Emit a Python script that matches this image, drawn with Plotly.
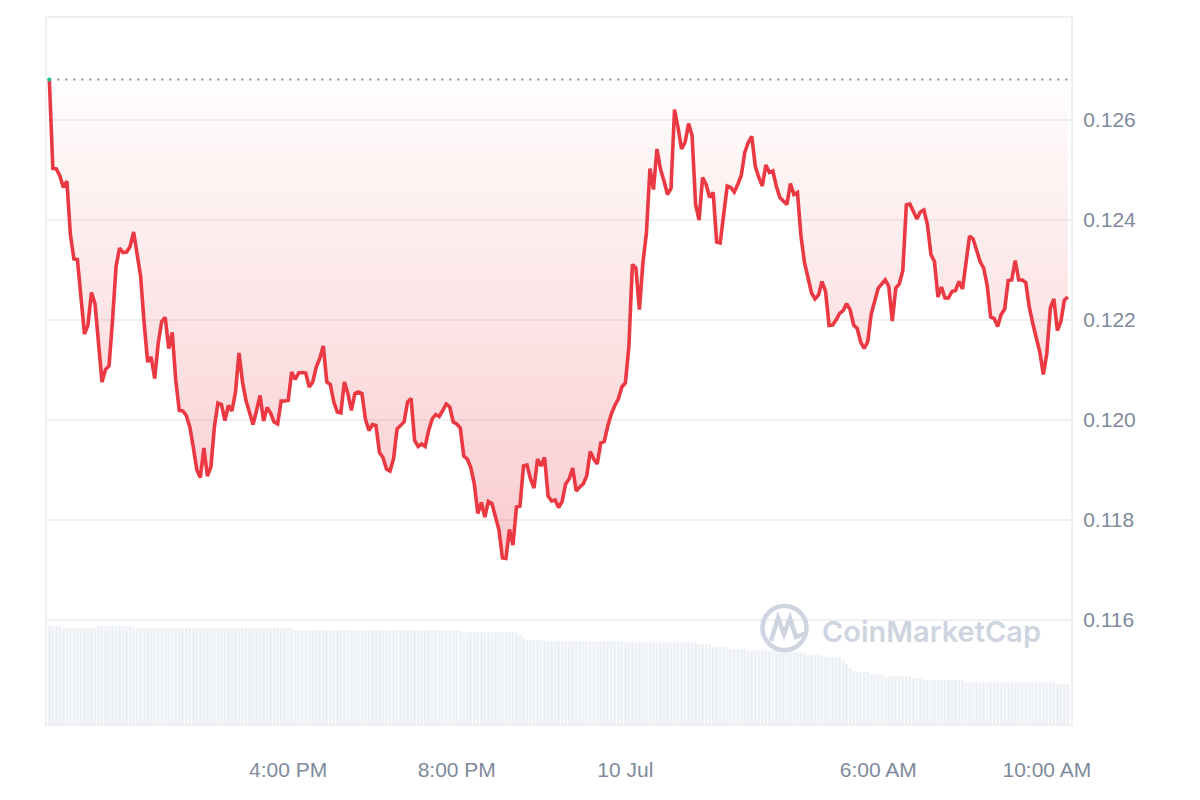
import pandas as pd
import plotly.graph_objects as go

# ---- data (5-minute samples) ----
start_time = "2024-07-09 10:20"
prices = [
    0.12681, 0.12503, 0.12502, 0.12488, 0.12465, 0.12478, 0.12371, 0.12322, 0.12321, 0.12240,
    0.12172, 0.12190, 0.12255, 0.12233, 0.12146, 0.12076, 0.12101, 0.12108, 0.12200, 0.12307,
    0.12344, 0.12335, 0.12336, 0.12347, 0.12376, 0.12327, 0.12287, 0.12193, 0.12116, 0.12126,
    0.12083, 0.12153, 0.12197, 0.12205, 0.12143, 0.12175, 0.12079, 0.12019, 0.12018, 0.12009,
    0.11986, 0.11945, 0.11900, 0.11885, 0.11944, 0.11888, 0.11906, 0.11986, 0.12034, 0.12031,
    0.11999, 0.12029, 0.12018, 0.12056, 0.12134, 0.12076, 0.12039, 0.12015, 0.11991, 0.12019,
    0.12049, 0.11998, 0.12025, 0.12014, 0.11996, 0.11992, 0.12038, 0.12038, 0.12039, 0.12096,
    0.12081, 0.12094, 0.12095, 0.12094, 0.12066, 0.12076, 0.12106, 0.12123, 0.12148, 0.12076,
    0.12071, 0.12036, 0.12016, 0.12014, 0.12076, 0.12053, 0.12019, 0.12053, 0.12056, 0.12053,
    0.12002, 0.11979, 0.11991, 0.11989, 0.11935, 0.11925, 0.11902, 0.11898, 0.11922, 0.11982,
    0.11989, 0.11996, 0.12036, 0.12043, 0.11959, 0.11947, 0.11952, 0.11947, 0.11979, 0.12002,
    0.12011, 0.12007, 0.12019, 0.12032, 0.12026, 0.11996, 0.11992, 0.11984, 0.11928, 0.11922,
    0.11905, 0.11872, 0.11813, 0.11835, 0.11806, 0.11837, 0.11833, 0.11808, 0.11781, 0.11724,
    0.11723, 0.11781, 0.11750, 0.11826, 0.11828, 0.11908, 0.11910, 0.11882, 0.11864, 0.11922,
    0.11908, 0.11925, 0.11848, 0.11838, 0.11840, 0.11825, 0.11837, 0.11872, 0.11882, 0.11904,
    0.11858, 0.11866, 0.11872, 0.11888, 0.11937, 0.11922, 0.11912, 0.11954, 0.11957, 0.11988,
    0.12012, 0.12029, 0.12042, 0.12066, 0.12074, 0.12146, 0.12311, 0.12304, 0.12221, 0.12314,
    0.12374, 0.12503, 0.12461, 0.12542, 0.12502, 0.12478, 0.12451, 0.12463, 0.12621, 0.12585,
    0.12542, 0.12555, 0.12593, 0.12569, 0.12431, 0.12400, 0.12485, 0.12471, 0.12445, 0.12455,
    0.12356, 0.12354, 0.12411, 0.12468, 0.12465, 0.12456, 0.12471, 0.12489, 0.12535, 0.12555,
    0.12567, 0.12507, 0.12485, 0.12468, 0.12510, 0.12495, 0.12498, 0.12467, 0.12445, 0.12438,
    0.12431, 0.12473, 0.12451, 0.12455, 0.12368, 0.12315, 0.12284, 0.12254, 0.12242, 0.12250,
    0.12277, 0.12257, 0.12189, 0.12190, 0.12200, 0.12213, 0.12219, 0.12233, 0.12220, 0.12190,
    0.12183, 0.12156, 0.12143, 0.12156, 0.12212, 0.12240, 0.12264, 0.12272, 0.12280, 0.12267,
    0.12198, 0.12264, 0.12272, 0.12299, 0.12430, 0.12432, 0.12418, 0.12402, 0.12416, 0.12420,
    0.12391, 0.12331, 0.12317, 0.12246, 0.12266, 0.12244, 0.12244, 0.12257, 0.12259, 0.12277,
    0.12262, 0.12317, 0.12368, 0.12362, 0.12340, 0.12317, 0.12304, 0.12270, 0.12206, 0.12203,
    0.12187, 0.12211, 0.12222, 0.12279, 0.12280, 0.12319, 0.12280, 0.12280, 0.12275, 0.12226,
    0.12193, 0.12165, 0.12136, 0.12091, 0.12133, 0.12224, 0.12242, 0.12179, 0.12197, 0.12240,
    0.12246,
]
volume_musd = [
    98, 98, 98, 98, 96, 96, 96, 96, 96, 96,
    96, 96, 96, 96, 98, 98, 98, 98, 98, 98,
    98, 98, 98, 98, 96, 96, 96, 96, 96, 96,
    96, 96, 96, 96, 96, 96, 96, 96, 96, 96,
    96, 96, 96, 96, 96, 96, 96, 96, 96, 96,
    96, 96, 96, 96, 96, 96, 96, 96, 96, 96,
    96, 96, 96, 96, 96, 96, 96, 96, 96, 96,
    93.7, 93.7, 93.7, 93.7, 93.7, 93.7, 93.7, 93.7, 93.7, 93.7,
    93.7, 93.7, 93.7, 93.7, 93.7, 93.7, 93.7, 93.7, 93.7, 93.7,
    93.7, 93.7, 93.7, 93.7, 93.7, 93.7, 93.7, 93.7, 93.7, 93.7,
    93.7, 93.7, 93.7, 93.7, 93.7, 93.7, 93.7, 93.7, 93.7, 93.7,
    93.7, 93.7, 93.7, 93.7, 93.7, 93.7, 93.7, 93.7, 91.7, 91.7,
    91.7, 91.7, 91.7, 91.7, 91.7, 91.7, 91.7, 91.7, 91.7, 91.7,
    91.7, 91.7, 91.7, 91.7, 89.3, 85.7, 83.7, 83.7, 83.7, 83.7,
    83.7, 83.7, 82.7, 82.7, 82.7, 82.7, 82.7, 82.7, 82.7, 82.7,
    82.7, 82.7, 82.7, 82.7, 82.7, 82.7, 82.7, 82.7, 82.7, 82.7,
    82.7, 82.7, 82.7, 82.7, 81.7, 81.7, 81.7, 81.7, 81.7, 81.7,
    81.7, 81.7, 81.7, 81.7, 81.7, 81.7, 81.7, 81.7, 81.7, 81.7,
    81.7, 81.7, 81.7, 81.7, 81.7, 79.7, 79.7, 79.7, 79.7, 77.3,
    77.3, 77.3, 77.3, 77.3, 75.3, 75.3, 75.3, 75.3, 75.3, 73.7,
    73.7, 73.7, 73.7, 73.7, 73.7, 73.7, 73.7, 73.7, 71.7, 71.7,
    71.7, 71.7, 71.7, 71.7, 71.7, 71.7, 69.3, 69.3, 69.3, 69.3,
    67.3, 67.3, 67.3, 67.3, 67.3, 67.3, 64, 60, 56, 53,
    52, 52, 52, 52, 49.7, 49.7, 49.7, 49.7, 47.7, 47.7,
    47.7, 47.7, 47.7, 47.7, 47.7, 47.7, 45.7, 45.7, 45.7, 44,
    44, 44, 44, 44, 44, 44, 44, 44, 44, 44,
    44, 41.7, 41.7, 41.7, 41.7, 41.7, 41.7, 41.7, 41.7, 41.7,
    41.7, 41.7, 41.7, 41.7, 41.7, 41.7, 41.7, 41.7, 41.7, 41.7,
    41.7, 41.7, 41.7, 41.7, 41.7, 41.7, 41.7, 39.7, 39.7, 39.7,
    39.7,
]
open_price = 0.12681
y_tick_values = [0.116, 0.118, 0.120, 0.122, 0.124, 0.126]
x_tick_values = ["2024-07-09 16:00", "2024-07-09 20:00", "2024-07-10 00:00",
                 "2024-07-10 06:00", "2024-07-10 10:00"]
x_tick_labels = ["4:00 PM", "8:00 PM", "10 Jul", "6:00 AM", "10:00 AM"]

times = pd.date_range(start_time, periods=len(prices), freq="5min")

RED = "#ea3943"
GREEN = "#16c784"
LABEL = "#808a9d"
FRAME = "#eff0f2"
WM = "#ced5e1"

fig = go.Figure()

# volume bars (background)
fig.add_trace(go.Bar(
    x=times, y=volume_musd, yaxis="y2",
    marker=dict(color="#edf0f4", line=dict(width=0)),
    hoverinfo="skip", showlegend=False,
))

# opening-price baseline (dotted)
fig.add_trace(go.Scatter(
    x=times, y=[open_price] * len(times), mode="lines",
    line=dict(color="#8c8c8c", width=2, dash="2px,6px"),
    hoverinfo="skip", showlegend=False,
))

# price line filled toward the baseline
fig.add_trace(go.Scatter(
    x=times, y=prices, mode="lines",
    line=dict(color=RED, width=3.6),
    fill="tonexty",
    fillgradient=dict(
        type="vertical",
        colorscale=[[0, "rgba(234,57,67,0.26)"], [1, "rgba(234,57,67,0.01)"]],
        start=min(prices), stop=open_price,
    ),
    showlegend=False,
))

# starting point marker
fig.add_trace(go.Scatter(
    x=times[:1], y=prices[:1], mode="markers",
    marker=dict(color=GREEN, size=4), hoverinfo="skip", showlegend=False,
))

L, R, T, B = 47, 129, 18, 76
W, H = 1200, 800
pw, ph = W - L - R, H - T - B


def px(xp):
    return (xp - L) / pw


def py(yp):
    return (H - B - yp) / ph


# CoinMarketCap watermark
fig.add_annotation(
    x=px(820), y=py(631), xref="paper", yref="paper",
    xanchor="left", yanchor="middle", showarrow=False,
    text="CoinMarketCap",
    font=dict(family="Inter, Noto Sans, sans-serif", size=29, color=WM, weight=600),
)
cx, cy, rr = 784.5, 628, 22
fig.add_shape(type="circle", xref="paper", yref="paper",
              x0=px(cx - rr), x1=px(cx + rr), y0=py(cy + rr), y1=py(cy - rr),
              line=dict(color=WM, width=4.5))
wave = [(771, 641), (778, 618), (784, 634), (790, 618), (796, 637), (806, 633)]
path = "M " + " L ".join(f"{px(a):.4f} {py(b):.4f}" for a, b in wave)
fig.add_shape(type="path", xref="paper", yref="paper", path=path,
              line=dict(color=WM, width=4.5))

fig.update_layout(
    width=W, height=H,
    margin=dict(l=L, r=R, t=T, b=B),
    paper_bgcolor="white", plot_bgcolor="white",
    bargap=0.22,
    font=dict(family="Arial, Liberation Sans, sans-serif", size=21, color=LABEL),
    xaxis=dict(
        type="date",
        range=["2024-07-09 10:16:42", "2024-07-10 10:34:24"],
        tickvals=x_tick_values, ticktext=x_tick_labels,
        showgrid=False, zeroline=False,
        showline=True, mirror=True, linecolor=FRAME, linewidth=2,
        ticks="outside", ticklen=0, ticklabelstandoff=26,
        tickfont=dict(size=21, color=LABEL),
    ),
    yaxis=dict(
        side="right",
        range=[0.11392, 0.12804],
        tickvals=y_tick_values, tickformat=".3f",
        showgrid=True, gridcolor="#f0f0f0", gridwidth=1.5,
        zeroline=False,
        showline=True, mirror=True, linecolor=FRAME, linewidth=2,
        ticks="outside", ticklen=0, ticklabelstandoff=6,
        tickfont=dict(size=21, color=LABEL),
    ),
    yaxis2=dict(overlaying="y", range=[0, 706], visible=False),
    hovermode="x",
)

fig.write_html("out.html", config={"displayModeBar": False},
               post_script="document.body.style.margin='0';")
